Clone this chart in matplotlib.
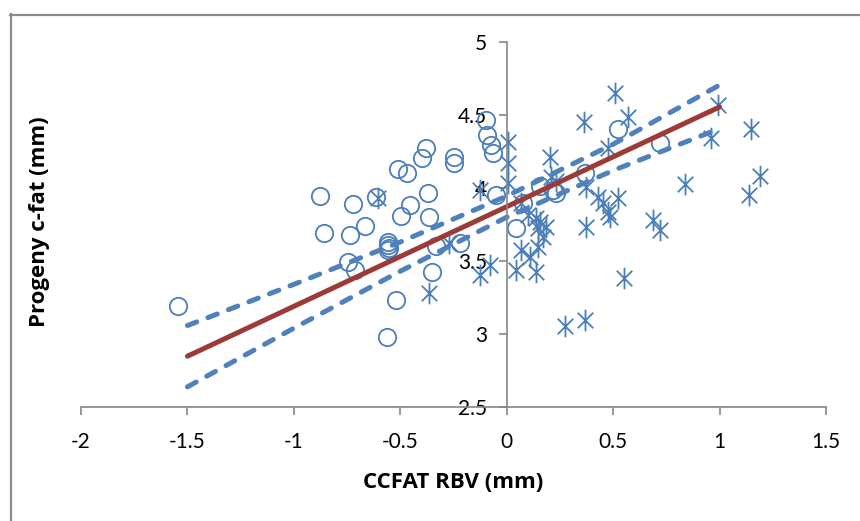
import matplotlib
matplotlib.use('Agg')
import matplotlib.pyplot as plt
from matplotlib.lines import Line2D
from matplotlib.path import Path
from matplotlib.ticker import FuncFormatter

plt.rcParams['font.family'] = ['Lato', 'DejaVu Sans']
plt.rcParams['axes.unicode_minus'] = False

# sires with negative RBV (open circles)
circle_x = [-1.544, -0.875, -0.860, -0.720, -0.737, -0.667, -0.747, -0.711, -0.614,
            -0.512, -0.470, -0.456, -0.498, -0.560, -0.556, -0.552, -0.556, -0.518,
            -0.562, -0.396, -0.377, -0.371, -0.366, -0.349, -0.330, -0.249, -0.249,
            -0.221, -0.095, -0.092, -0.072, -0.064, -0.048, 0.042, 0.077, 0.155,
            0.218, 0.233, 0.366, 0.523, 0.719]
circle_y = [3.19, 3.945, 3.694, 3.888, 3.678, 3.742, 3.491, 3.436, 3.94,
            4.13, 4.10, 3.881, 3.806, 3.632, 3.61, 3.59, 3.575, 3.233,
            2.982, 4.203, 4.276, 3.964, 3.799, 3.427, 3.605, 4.21, 4.169,
            3.625, 4.466, 4.363, 4.295, 4.238, 3.952, 3.724, 3.895, 4.014,
            3.986, 3.964, 4.105, 4.402, 4.306]

# second group (asterisks)
star_x = [0.507, 0.570, 0.363, 0.993, 0.961, 1.146, 1.188, 1.138, 0.839, 0.476,
          0.006, 0.006, 0.006, -0.127, 0.202, 0.210, 0.230, 0.374, 0.429, 0.523,
          0.452, 0.476, 0.484, 0.374, 0.687, 0.719, 0.069, 0.100, 0.139, 0.155,
          0.186, 0.147, 0.171, 0.069, 0.108, 0.147, 0.045, 0.139, -0.080, -0.127,
          0.551, 0.272, 0.366, -0.270, -0.605, -0.365]
star_y = [4.649, 4.484, 4.454, 4.568, 4.340, 4.402, 4.084, 3.952, 4.027, 4.272,
          4.317, 4.169, 4.032, 3.986, 4.214, 4.078, 4.050, 4.009, 3.940, 3.929,
          3.895, 3.838, 3.803, 3.735, 3.781, 3.712, 3.895, 3.815, 3.792, 3.769,
          3.735, 3.724, 3.667, 3.575, 3.530, 3.598, 3.438, 3.427, 3.473, 3.404,
          3.382, 3.057, 3.096, 3.620, 3.930, 3.279]

# regression line and confidence band
fit_x = [-1.5, 1.0]
fit_y = [2.848, 4.555]
band_x = [-1.5, -1.0, -0.5, 0.0, 0.5, 1.0]
band_upper = [3.058, 3.34, 3.63, 3.945, 4.30, 4.705]
band_lower = [2.638, 3.04, 3.43, 3.800, 4.12, 4.407]

blue = '#4A7EBB'
grey = '#868686'

# excel style asterisk: vertical bar plus an X
ast = Path([(0, -1), (0, 1), (-0.72, -0.72), (0.72, 0.72), (-0.72, 0.72), (0.72, -0.72)],
           [Path.MOVETO, Path.LINETO, Path.MOVETO, Path.LINETO, Path.MOVETO, Path.LINETO])

fig = plt.figure(figsize=(8.6, 5.21), dpi=100)
ax = fig.add_axes([81/860, 1 - 407/521, 745/860, 365/521])

ax.plot(circle_x, circle_y, linestyle='none', marker='o', ms=12.5,
        mfc='none', mec=blue, mew=1.3)
ax.plot(star_x, star_y, linestyle='none', marker=ast, ms=15.5,
        mfc='none', mec=blue, mew=1.3)
ax.plot(fit_x, fit_y, color='#9B3A36', lw=3.6, solid_capstyle='round')
for yy in (band_upper, band_lower):
    ax.plot(band_x, yy, color='#4F81BD', lw=3.6, dashes=(2.0, 2.4),
            dash_capstyle='round')

ax.set_xlim(-2, 1.5)
ax.set_ylim(2.5, 5)
ax.set_xticks([-2, -1.5, -1, -0.5, 0, 0.5, 1, 1.5])
ax.set_yticks([2.5, 3, 3.5, 4, 4.5, 5])
fmt = FuncFormatter(lambda v, p: '%g' % v)
ax.xaxis.set_major_formatter(fmt)
ax.yaxis.set_major_formatter(fmt)

for s in ('top', 'right'):
    ax.spines[s].set_visible(False)
ax.spines['left'].set_position(('data', 0))
ax.spines['left'].set_color(grey)
ax.spines['bottom'].set_color(grey)
ax.spines['left'].set_linewidth(1.2)
ax.spines['bottom'].set_linewidth(1.2)
ax.tick_params(axis='both', direction='out', length=6, width=1.2, color=grey,
               labelsize=15, labelcolor='black')
ax.tick_params(axis='x', pad=12)
ax.tick_params(axis='y', pad=8)

fig.text(453/860, 1 - 483/521, 'CCFAT RBV (mm)', ha='center', va='center',
         fontsize=16, fontweight='bold', family=['Open Sans', 'DejaVu Sans'])
fig.text(40/860, 1 - 222/521, 'Progeny c-fat (mm)', ha='center', va='center',
         rotation=90, fontsize=16, fontweight='bold', family=['Open Sans', 'DejaVu Sans'])

# outer chart frame
fig.add_artist(Line2D([10.5/860, 10.5/860], [0, 1 - 14/521], color='#8C8C8C', lw=1.6))
fig.add_artist(Line2D([10/860, 1], [1 - 14.5/521, 1 - 14.5/521], color='#8C8C8C', lw=1.6))

fig.savefig('out.png', dpi=100)
